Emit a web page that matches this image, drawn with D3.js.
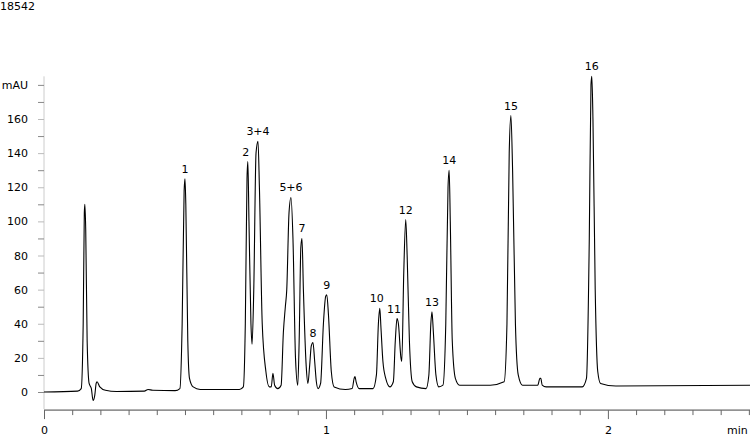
<!DOCTYPE html>
<html><head><meta charset="utf-8">
<script src="https://cdn.jsdelivr.net/npm/d3@7"></script>
<style>body{margin:0;background:#fff}text{font-family:"DejaVu Sans",Verdana,sans-serif;font-size:11px}</style>
</head><body><svg id="c" width="750" height="436"></svg>
<script>
// chromatogram trace: time (min), signal (mAU)
const traceT = [0,0.119,0.132,0.139,0.143,0.145,0.148,0.153,0.160,0.168,0.174,0.180,0.185,0.188,0.198,0.218,0.257,0.356,0.369,0.386,0.465,0.482,0.490,0.497,0.500,0.503,0.510,0.516,0.529,0.554,0.693,0.707,0.714,0.720,0.723,0.727,0.734,0.738,0.744,0.752,0.759,0.764,0.774,0.787,0.799,0.806,0.812,0.818,0.829,0.841,0.849,0.856,0.861,0.869,0.876,0.883,0.892,0.900,0.905,0.911,0.915,0.920,0.930,0.936,0.942,0.948,0.954,0.960,0.966,0.972,0.981,0.991,0.999,1.003,1.009,1.019,1.029,1.069,1.093,1.100,1.103,1.107,1.118,1.167,1.179,1.186,1.191,1.195,1.202,1.212,1.227,1.239,1.246,1.252,1.257,1.266,1.269,1.276,1.283,1.288,1.296,1.306,1.321,1.355,1.365,1.372,1.376,1.381,1.390,1.400,1.415,1.425,1.433,1.437,1.441,1.448,1.459,1.474,1.583,1.632,1.642,1.650,1.656,1.662,1.672,1.682,1.697,1.751,1.759,1.762,1.767,1.781,1.909,1.924,1.934,1.940,1.943,1.947,1.955,1.964,1.974,2.028,2.504];
const traceV = [0,0.5,2,40,105,110,95,30,5,2,-5,-2,5,6,3,1,0.3,0.5,1.5,1,0.8,2,40,118,125,110,30,8,3,1.5,1.5,3,40,125,135,100,40,28,60,140,147,120,40,12,3,3,11,4,2,4,35,50,60,105,114,90,20,4,30,85,90,60,15,5,15,27,29,18,6,2,5,40,56,57,45,12,3,1.5,2,8,9,6,2,2,10,40,49,38,18,8,3,6,30,43,40,20,18,70,101,80,30,6,3,2,10,40,47,35,10,3,4,40,120,130,100,30,8,4,4,6,40,140,162,130,40,10,4,4,8,8,4,3,3,8,90,180,185,160,60,12,5,3.5,4];

// peak labels
const peakNames = ['1','2','3+4','5+6','7','8','9','10','11','12','13','14','15','16'];
const peakT = [0.500,0.723,0.759,0.876,0.915,0.954,1.003,1.191,1.252,1.283,1.376,1.437,1.656,1.943];
const peakV = [125,135,147,114,90,29,57,49,43,101,47,130,162,185];
const peakDx = [0,-2,0,0,0,0,0,-3,-3,0,0,0,0,0];

const yTicks = d3.range(0, 190, 10);
const xTicks = d3.range(0, 26).map(i => i / 10);

const svg = d3.select('#c');
const x = d3.scaleLinear().domain([0, 2.504]).range([44, 750]);
const y = d3.scaleLinear().domain([0, 160]).range([392, 119]);
const isInt = d => Math.abs(d - Math.round(d)) < 1e-9;

svg.append('text').attr('x', 0).attr('y', 10).text('18542');

// y axis
const ya = svg.append('g').attr('transform', 'translate(44,0)')
  .call(d3.axisLeft(y).tickValues(yTicks).tickSize(6).tickPadding(10)
    .tickFormat(d => d === 180 ? 'mAU' : (d % 20 === 0 ? d : '')));
ya.select('.domain').attr('stroke', '#ccc').attr('d', 'M0,' + y(-10) + 'V' + y(185));
ya.selectAll('.tick line').attr('stroke', '#888');
ya.selectAll('.tick').filter(d => d % 20 === 0 && d !== 180 && d !== 0).select('line').attr('stroke', '#bbb');
ya.selectAll('text').attr('fill', '#000').style('font-size', '11px');

// x axis
const xa = svg.append('g').attr('transform', 'translate(0,' + y(-10.6) + ')')
  .call(d3.axisBottom(x).tickValues(xTicks).tickSize(5).tickPadding(11)
    .tickFormat(d => isInt(d) ? Math.round(d) : ''));
xa.select('.domain').attr('d', 'M44,0H750').attr('stroke', '#444');
xa.selectAll('.tick line').attr('stroke', '#666');
xa.selectAll('.tick').filter(d => isInt(d)).select('line').attr('y2', 9);
xa.selectAll('text').attr('fill', '#000').style('font-size', '11px');
svg.append('text').attr('x', 727).attr('y', y(-10.6) + 24).text('min');

// trace
const pts = traceT.map((t, i) => [t, traceV[i]]);
svg.append('path').datum(pts)
  .attr('fill', 'none').attr('stroke', '#000').attr('stroke-width', 1.1)
  .attr('d', d3.line().x(d => x(d[0])).y(d => y(d[1])).curve(d3.curveMonotoneX));

svg.selectAll('.pl').data(peakNames).enter().append('text')
  .attr('x', (d, i) => x(peakT[i]) + peakDx[i]).attr('y', (d, i) => y(peakV[i]) - 6)
  .attr('text-anchor', 'middle').text(d => d);
</script></body></html>
